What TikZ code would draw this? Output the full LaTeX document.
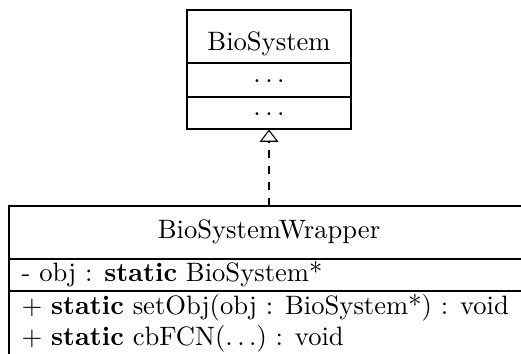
\documentclass[tikz,border=0pt]{standalone}
\usetikzlibrary{arrows.meta,fit}
\begin{document}
\begin{tikzpicture}[x=0.3759pt,y=-0.3759pt,
  box/.style={draw,inner sep=0pt},
  txt/.style={inner sep=0pt,anchor=base},
  ltxt/.style={inner sep=0pt,anchor=base west},
  realize/.style={dashed,-{Triangle[open,width=7pt,length=4.6pt]}}]
\useasboundingbox (0,0) rectangle (521,353);
\clip (0,0) rectangle (521,353);
% top class
\node[box,fit={(187,10) (351,129)}] (bio) {};
\draw (bio.west |- 0,63) coordinate (b1l) -- (bio.east |- 0,63) coordinate (b1r);
\draw (bio.west |- 0,97) coordinate (b2l) -- (bio.east |- 0,97) coordinate (b2r);
\node[txt] (bioname) at (269,50) {BioSystem};
\node[txt] (bioattr) at (269,82) {$\ldots$};
\node[txt] (bioops) at (269,115) {$\ldots$};
% bottom class
\node[box,fit={(9,206) (529,380)}] (wrap) {};
\draw (wrap.west |- 0,259) coordinate (w1l) -- (wrap.east |- 0,259) coordinate (w1r);
\draw (wrap.west |- 0,291) coordinate (w2l) -- (wrap.east |- 0,291) coordinate (w2r);
\node[txt] (wrapname) at (269,238) {BioSystemWrapper};
\node[ltxt] (attr) at (21,281) {- obj : \textbf{static} BioSystem*};
\node[ltxt] (op1) at (21,314) {$+$ \textbf{static} setObj(obj : BioSystem*) : void};
\node[ltxt] (op2) at (21,345) {$+$ \textbf{static} cbFCN($\ldots$) : void};
% realization
\draw[realize] (wrap.north) -- (bio.south);
\end{tikzpicture}
\end{document}
